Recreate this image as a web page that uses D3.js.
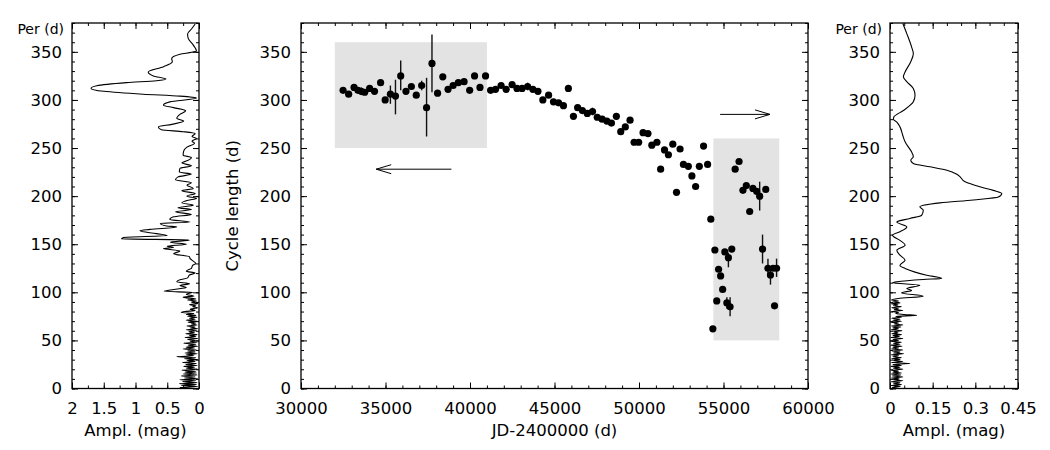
<!DOCTYPE html>
<html>
<head>
<meta charset="utf-8">
<script src="https://cdn.jsdelivr.net/npm/d3@7"></script>
<style>
  body { margin: 0; background: #fff; }
  svg { display: block; }
</style>
</head>
<body>
<div id="chart"></div>
<script>
// cycle length vs JD (middle panel)
const jd = [32490, 32820, 33140, 33370, 33570, 33770, 34060, 34350, 34710, 34980,
  35290, 35590, 35900, 36210, 36530, 36820, 37140, 37430, 37750, 38080,
  38390, 38700, 39000, 39310, 39650, 39980, 40270, 40590, 40920, 41220,
  41510, 41840, 42140, 42490, 42780, 43080, 43410, 43720, 44020, 44310,
  44650, 44940, 45240, 45530, 45820, 46120, 46370, 46650, 46940, 47250,
  47530, 47820, 48100, 48370, 48660, 48920, 49190, 49470, 49710, 49980,
  50240, 50530, 50760, 51060, 51280, 51510, 51740, 52000, 52220, 52430,
  52630, 52920, 53130, 53350, 53570, 53820, 54060, 54250, 54370, 54490,
  54600, 54710, 54830, 54950, 55080, 55200, 55290, 55390, 55490, 55690,
  55920, 56150, 56350, 56550, 56740, 56960, 57140, 57310, 57500, 57630,
  57780, 57940, 58020, 58140];
const cycle = [310, 306, 313, 310, 309, 308, 312, 309, 318, 300,
  306, 304, 325, 309, 314, 305, 315, 292, 338, 307,
  324, 311, 315, 318, 319, 310, 325, 313, 325, 310,
  311, 315, 311, 316, 312, 312, 314, 311, 309, 300,
  305, 298, 297, 294, 312, 283, 292, 289, 286, 288,
  282, 280, 278, 276, 283, 267, 272, 279, 256, 256,
  266, 265, 253, 256, 228, 248, 243, 254, 204, 249,
  233, 231, 221, 210, 231, 252, 233, 176, 62, 144,
  91, 124, 117, 103, 142, 89, 136, 85, 145, 228,
  236, 206, 211, 184, 208, 205, 200, 145, 207, 125,
  118, 125, 86, 125];

// error bars
const errJd = [33570, 35290, 35590, 35900, 37140, 37430, 37750, 43410, 47250,
  55200, 55290, 55390, 57140, 57310, 57630, 57780, 58140];
const errLo = [305, 296, 285, 310, 310, 262, 308, 310, 284,
  83, 126, 75, 185, 130, 116, 108, 116];
const errHi = [313, 315, 321, 341, 320, 323, 368, 318, 292,
  95, 141, 95, 215, 160, 135, 125, 135];

// shaded boxes and arrows
const boxJdFrom = [32000, 54400];
const boxJdTo = [41000, 58300];
const boxCycLo = [250, 50];
const boxCycHi = [360, 260];
const arrowJdFrom = [38900, 54800];
const arrowJdTo = [34450, 57750];
const arrowCyc = [228, 285];

// periodogram, first half (left panel): [period, amplitude]
const leftPgram = [
  [379, 0.06], [374, 0.115], [368.5, 0.18], [364, 0.17], [357, 0.09], [351, 0.04],
  [349.5, 0.115], [347.5, 0.3], [343, 0.43], [339.7, 0.42], [334.5, 0.56], [329, 0.8],
  [325, 0.72], [321.7, 0.52], [320, 0.67], [318, 1.14], [314.7, 1.61], [312, 1.7],
  [309, 1.5], [306, 0.88], [304, 0.3], [302, 0.04], [298, 0.46], [294.6, 0.56],
  [292, 0.4], [288.7, 0.21], [285, 0.3], [281, 0.35], [278, 0.24], [274.6, 0.43],
  [272, 0.64], [269, 0.59], [267, 0.25], [265, 0.06], [262, 0.11], [260, 0.04],
  [257, 0.11], [255, 0.07], [251, 0.19], [247, 0.24], [242.6, 0.25], [240, 0.12],
  [236.7, 0.19], [234.6, 0.27], [231.5, 0.12], [228.8, 0.3], [225, 0.31], [222.9, 0.12],
  [220, 0.33], [217, 0.37], [213.8, 0.12], [211.4, 0.19], [208, 0.09], [205.5, 0.27],
  [202.8, 0.06], [200, 0.19], [197.6, 0.04], [195.8, 0.17], [193, 0.27], [190.6, 0.09],
  [188, 0.33], [186, 0.12], [183.7, 0.37], [181, 0.12], [178.5, 0.4], [175.8, 0.46],
  [173, 0.14], [171.6, 0.61], [169, 0.51], [168, 0.35], [165.4, 0.77], [164, 0.93],
  [161, 0.67], [159, 0.5], [157, 1.19], [155.5, 1.22], [154.5, 0.15], [152, 0.45],
  [150, 0.2], [148, 0.5], [146.6, 0.4], [145.6, 0.56], [143, 0.3], [140, 0.4],
  [137, 0.15], [135, 0.14], [132, 0.08], [130, 0.05], [128, 0.1], [125, 0.12],
  [122, 0.2], [120, 0.06], [118, 0.15], [115, 0.18], [113, 0.3], [111, 0.35],
  [109, 0.15], [107, 0.3], [105, 0.2], [103, 0.4], [101, 0.55], [100, 0.1],
  [98, 0.2], [96, 0.08], [95, 0.25], [93, 0.05], [92, 0.18], [91, 0.04],
  [90, 0.12], [88.5, 0.02], [87, 0.15], [86, 0.05], [85, 0.1], [84, 0.02],
  [82.5, 0.14], [81, 0.06], [80, 0.22], [79, 0.28], [78, 0.08], [77, 0.2],
  [76, 0.05], [75, 0.18], [74, 0.03], [73, 0.15], [72, 0.06], [71, 0.2],
  [70, 0.02], [69, 0.17], [68, 0.05], [67, 0.12], [66, 0.03], [65, 0.19],
  [64, 0.06], [63, 0.14], [62, 0.02], [61, 0.2], [60, 0.04], [59, 0.16],
  [58, 0.07], [57, 0.21], [56, 0.03], [55, 0.15], [54, 0.05], [53, 0.22],
  [52, 0.02], [51, 0.18], [50, 0.06], [49, 0.14], [48, 0.03], [47, 0.24],
  [46, 0.05], [45, 0.17], [44, 0.02], [43, 0.2], [42, 0.07], [41, 0.25],
  [40, 0.04], [39, 0.18], [38, 0.06], [37, 0.22], [36, 0.03], [35, 0.2],
  [34, 0.08], [33, 0.35], [32, 0.05], [31, 0.23], [30, 0.02], [29, 0.19],
  [28, 0.06], [27, 0.26], [26, 0.04], [25, 0.21], [24, 0.03], [23, 0.24],
  [22, 0.07], [21, 0.2], [20, 0.02], [19, 0.27], [18, 0.05], [17, 0.22],
  [16, 0.04], [15, 0.25], [14, 0.03], [13, 0.28], [12, 0.06], [11, 0.23],
  [10, 0.02], [9, 0.3], [8, 0.05], [7, 0.26], [6, 0.03], [5, 0.31],
  [4, 0.04], [3, 0.28], [2, 0.02], [1, 0.3], [0, 0.05]
];

// periodogram, second half (right panel): [period, amplitude]
const rightPgram = [
  [379.6, 0.045], [369, 0.059], [355, 0.076], [348, 0.082], [339.7, 0.073], [329, 0.053],
  [324, 0.047], [319, 0.059], [312, 0.082], [305, 0.088], [298, 0.082], [289, 0.047],
  [282.5, 0.014], [280, 0.012], [277, 0.024], [272, 0.035], [263, 0.045], [256.5, 0.053],
  [249.6, 0.068], [246, 0.076], [241, 0.082], [237.4, 0.073], [234, 0.082], [230.5, 0.141],
  [227, 0.2], [221.8, 0.24], [214.9, 0.264], [209.7, 0.316], [206, 0.363], [202.8, 0.393],
  [199, 0.381], [196, 0.293], [193, 0.176], [188.9, 0.105], [185.4, 0.117], [180, 0.111],
  [176.8, 0.07], [173, 0.024], [168, 0.059], [163, 0.035], [159.4, 0.009], [154, 0.035],
  [149, 0.053], [143.8, 0.024], [138.6, 0.035], [133.4, 0.053], [128, 0.035], [124.8, 0.053],
  [121, 0.088], [117.8, 0.129], [114.4, 0.182], [113.4, 0.117], [111, 0.024], [110, 0.01],
  [107.4, 0.105], [104, 0.059], [102, 0.076], [99.4, 0.041], [96, 0.117], [93.6, 0.029],
  [92, 0.005], [91, 0.03], [90, 0.01], [89, 0.035], [88, 0.004], [87, 0.028],
  [86, 0.012], [85, 0.04], [84, 0.006], [83, 0.03], [82, 0.015], [81, 0.045],
  [80, 0.005], [79, 0.03], [78, 0.02], [77, 0.05], [76, 0.094], [75, 0.02],
  [74, 0.04], [73, 0.006], [72, 0.035], [71, 0.01], [70, 0.04], [69, 0.003],
  [68, 0.03], [67, 0.015], [66, 0.045], [65, 0.005], [64, 0.038], [63, 0.01],
  [62, 0.03], [61, 0.004], [60, 0.042], [59, 0.012], [58, 0.028], [57, 0.006],
  [56, 0.04], [55, 0.01], [54, 0.033], [53, 0.003], [52, 0.045], [51, 0.01],
  [50, 0.03], [49, 0.005], [48, 0.04], [47, 0.012], [46, 0.035], [45, 0.002],
  [44, 0.042], [43, 0.01], [42, 0.03], [41, 0.005], [40, 0.045], [39, 0.008],
  [38, 0.035], [37, 0.012], [36, 0.048], [35, 0.004], [34, 0.03], [33, 0.01],
  [32, 0.04], [31, 0.006], [30, 0.035], [29, 0.012], [28, 0.045], [27, 0.005],
  [26, 0.07], [25, 0.01], [24, 0.04], [23, 0.004], [22, 0.035], [21, 0.012],
  [20, 0.045], [19, 0.005], [18, 0.03], [17, 0.01], [16, 0.04], [15, 0.003],
  [14, 0.038], [13, 0.008], [12, 0.045], [11, 0.005], [10, 0.032], [9, 0.01],
  [8, 0.045], [7, 0.004], [6, 0.035], [5, 0.012], [4, 0.04], [3, 0.003],
  [2, 0.036], [1, 0.008], [0, 0.03]
];

// tick values
const perTicks = [0, 50, 100, 150, 200, 250, 300, 350];
const perMinor = d3.range(0, 381, 10);
const jdTicks = [30000, 35000, 40000, 45000, 50000, 55000, 60000];
const jdMinor = d3.range(30000, 60001, 1000);
const leftAmpTicks = [2, 1.5, 1, 0.5, 0];
const leftAmpMinor = [2, 1.75, 1.5, 1.25, 1, 0.75, 0.5, 0.25, 0];
const rightAmpTicks = [0, 0.15, 0.3, 0.45];
const rightAmpMinor = [0, 0.05, 0.1, 0.15, 0.2, 0.25, 0.3, 0.35, 0.4, 0.45];

const W = 1050, H = 450;
const plotTop = 23, plotH = 365.5;
const font = '"DejaVu Sans", "Liberation Sans", Arial, sans-serif';
const fs = 16.5;

const $svg = d3.select('#chart').append('svg')
  .attr('width', W)
  .attr('height', H)
  .attr('font-family', font);

const y = d3.scaleLinear().domain([0, 380]).range([plotH, 0]);

function styleAxis(g) {
  g.attr('font-family', font).attr('font-size', fs);
  g.select('.domain').remove();
  g.selectAll('.tick line').attr('stroke', '#000').attr('stroke-width', 1);
}

function drawAxes($p, x, w, xMajor, xMinor) {
  const fmt = d => d;
  // bottom
  $p.append('g').attr('transform', `translate(0,${plotH})`)
    .call(d3.axisBottom(x).tickValues(xMinor).tickSize(-3).tickFormat(''))
    .call(styleAxis);
  $p.append('g').attr('transform', `translate(0,${plotH})`)
    .call(d3.axisBottom(x).tickValues(xMajor).tickSize(-6).tickPadding(14).tickFormat(fmt))
    .call(styleAxis);
  // top
  $p.append('g')
    .call(d3.axisTop(x).tickValues(xMinor).tickSize(-3).tickFormat(''))
    .call(styleAxis);
  $p.append('g')
    .call(d3.axisTop(x).tickValues(xMajor).tickSize(-6).tickFormat(''))
    .call(styleAxis);
  // left
  $p.append('g')
    .call(d3.axisLeft(y).tickValues(perMinor).tickSize(-3).tickFormat(''))
    .call(styleAxis);
  $p.append('g')
    .call(d3.axisLeft(y).tickValues(perTicks).tickSize(-6).tickPadding(10).tickFormat(fmt))
    .call(styleAxis);
  // right
  $p.append('g').attr('transform', `translate(${w},0)`)
    .call(d3.axisRight(y).tickValues(perMinor).tickSize(-3).tickFormat(''))
    .call(styleAxis);
  $p.append('g').attr('transform', `translate(${w},0)`)
    .call(d3.axisRight(y).tickValues(perTicks).tickSize(-6).tickFormat(''))
    .call(styleAxis);

  $p.append('rect')
    .attr('width', w)
    .attr('height', plotH)
    .attr('fill', 'none')
    .attr('stroke', '#000')
    .attr('stroke-width', 1.3);
}

function xTitle($p, w, label) {
  $p.append('text')
    .attr('x', w / 2)
    .attr('y', plotH + 47)
    .attr('text-anchor', 'middle')
    .attr('font-size', fs)
    .text(label);
}

function perLabel($p) {
  $p.append('text')
    .attr('x', -8)
    .attr('y', 11)
    .attr('text-anchor', 'end')
    .attr('font-size', 14)
    .text('Per (d)');
}

// periodogram line, x = amplitude, y = period
function pgramLine(x) {
  return d3.line()
    .x(d => x(d[1]))
    .y(d => y(d[0]))
    .curve(d3.curveMonotoneY);
}

// ---- left panel ----
const leftW = 127;
const $left = $svg.append('g').attr('transform', `translate(72,${plotTop})`);
const xLeft = d3.scaleLinear().domain([2, 0]).range([0, leftW]);

$left.append('path')
  .datum(leftPgram)
  .attr('d', pgramLine(xLeft))
  .attr('fill', 'none')
  .attr('stroke', '#000')
  .attr('stroke-width', 1.1);

drawAxes($left, xLeft, leftW, leftAmpTicks, leftAmpMinor);
xTitle($left, leftW, 'Ampl. (mag)');
perLabel($left);

// ---- middle panel ----
const midW = 507;
const $mid = $svg.append('g').attr('transform', `translate(301,${plotTop})`);
const x = d3.scaleLinear().domain([30000, 60000]).range([0, midW]);

$mid.selectAll('.box')
  .data(boxJdFrom)
  .enter()
  .append('rect')
  .attr('class', 'box')
  .attr('x', (d, i) => x(d))
  .attr('width', (d, i) => x(boxJdTo[i]) - x(d))
  .attr('y', (d, i) => y(boxCycHi[i]))
  .attr('height', (d, i) => y(boxCycLo[i]) - y(boxCycHi[i]))
  .attr('fill', '#e3e3e3');

// arrows with open heads
const headLen = 15, headHalf = 4.5;
$mid.selectAll('.arrow')
  .data(arrowJdFrom)
  .enter()
  .append('path')
  .attr('class', 'arrow')
  .attr('d', (d, i) => {
    const x0 = x(d), x1 = x(arrowJdTo[i]), yy = y(arrowCyc[i]);
    const dir = Math.sign(x1 - x0);
    const hx = x1 - dir * headLen;
    return `M${x0},${yy}L${x1},${yy}M${hx},${yy - headHalf}L${x1},${yy}L${hx},${yy + headHalf}`;
  })
  .attr('fill', 'none')
  .attr('stroke', '#000')
  .attr('stroke-width', 1);

$mid.selectAll('.err')
  .data(errJd)
  .enter()
  .append('line')
  .attr('class', 'err')
  .attr('x1', d => x(d))
  .attr('x2', d => x(d))
  .attr('y1', (d, i) => y(errLo[i]))
  .attr('y2', (d, i) => y(errHi[i]))
  .attr('stroke', '#111')
  .attr('stroke-width', 1.4);

$mid.selectAll('.dot')
  .data(jd)
  .enter()
  .append('circle')
  .attr('class', 'dot')
  .attr('cx', d => x(d))
  .attr('cy', (d, i) => y(cycle[i]))
  .attr('r', 3.6)
  .attr('fill', '#000');

drawAxes($mid, x, midW, jdTicks, jdMinor);
xTitle($mid, midW, 'JD-2400000 (d)');

$mid.append('text')
  .attr('transform', `translate(-63,${plotH / 2}) rotate(-90)`)
  .attr('text-anchor', 'middle')
  .attr('font-size', fs)
  .text('Cycle length (d)');

// ---- right panel ----
const rightW = 128;
const $right = $svg.append('g').attr('transform', `translate(890,${plotTop})`);
const xRight = d3.scaleLinear().domain([0, 0.45]).range([0, rightW]);

$right.append('path')
  .datum(rightPgram)
  .attr('d', pgramLine(xRight))
  .attr('fill', 'none')
  .attr('stroke', '#000')
  .attr('stroke-width', 1.1);

drawAxes($right, xRight, rightW, rightAmpTicks, rightAmpMinor);
xTitle($right, rightW, 'Ampl. (mag)');
perLabel($right);
</script>
</body>
</html>
